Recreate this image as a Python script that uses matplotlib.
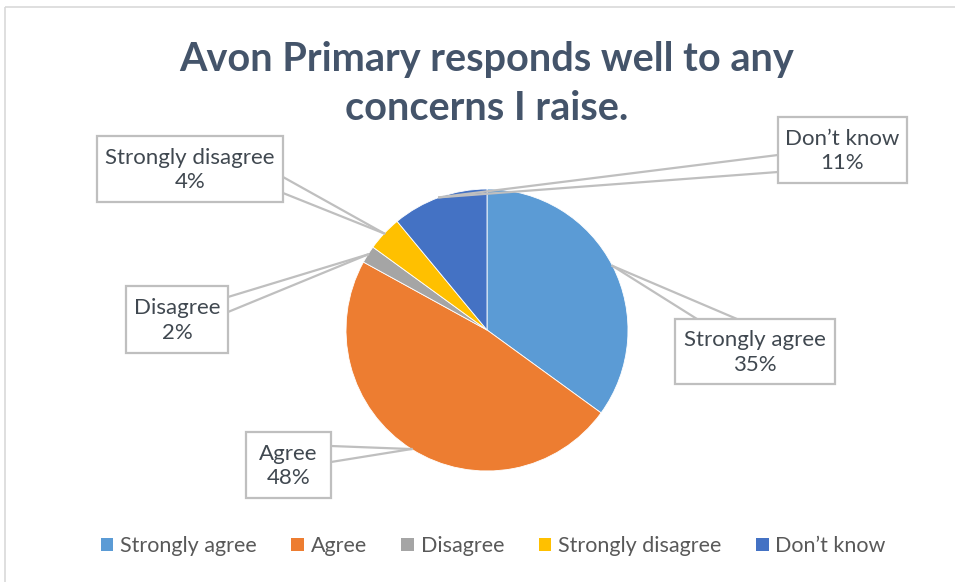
import numpy as np
import matplotlib
matplotlib.use("Agg")
import matplotlib.pyplot as plt
from matplotlib.patches import Patch, Rectangle

plt.rcParams['font.family'] = ['Lato', 'DejaVu Sans']

labels = ["Strongly agree", "Agree", "Disagree", "Strongly disagree", "Don\u2019t know"]
values = [35, 48, 2, 4, 11]
colors = ["#5B9BD5", "#ED7D31", "#A5A5A5", "#FFC000", "#4472C4"]

# callout boxes in pixels (left, top, right, bottom) and where the pointer leaves the box
boxes = {
    "Strongly agree": (675, 319, 835, 384),
    "Agree": (246, 432, 331, 498),
    "Disagree": (126, 286, 228, 353),
    "Strongly disagree": (97, 136, 283, 202),
    "Don\u2019t know": (778, 117, 907, 183),
}
roots = {
    "Strongly agree": [(697, 319), (737, 319)],
    "Agree": [(331, 446), (331, 462)],
    "Disagree": [(228, 297), (228, 312)],
    "Strongly disagree": [(283, 177), (283, 193)],
    "Don\u2019t know": [(778, 155), (778, 172)],
}

W, H = 955, 582
fig = plt.figure(figsize=(W / 100, H / 100), dpi=100)

# overlay axes in pixel coordinates
ov = fig.add_axes([0, 0, 1, 1])
ov.set_xlim(0, W)
ov.set_ylim(H, 0)
ov.axis('off')
ov.add_patch(Rectangle((5, 7), W + 10, H + 10, fill=False, ec="#D9D9D9", lw=1.2))

# pie
cx, cy, r = 487, 330, 141
ax = fig.add_axes([(cx - r) / W, (H - cy - r) / H, 2 * r / W, 2 * r / H])
wedges, _ = ax.pie(values, colors=colors, startangle=90, counterclock=False,
                   wedgeprops=dict(edgecolor='white', linewidth=0.6))
ax.set_xlim(-1, 1)
ax.set_ylim(-1, 1)
ax.axis('off')
ax.set_zorder(1)
ov.set_zorder(2)
ov.patch.set_alpha(0)

total = sum(values)
start = 90.0
for lab, v, w in zip(labels, values, wedges):
    mid = np.deg2rad(start - 360 * v / total / 2)
    start -= 360 * v / total
    # anchor on the rim, converted to overlay pixels
    disp = ax.transData.transform((np.cos(mid), np.sin(mid)))
    axp, ayp = ov.transData.inverted().transform(disp)
    for rx, ry in roots[lab]:
        ov.plot([rx, axp], [ry, ayp], color="#BFBFBF", lw=1.6, zorder=3)
    l, t, rr, b = boxes[lab]
    ov.add_patch(Rectangle((l, t), rr - l, b - t, fc='white', ec="#BFBFBF", lw=1.6, zorder=4))
    ov.text((l + rr) / 2, (t + b) / 2 + 1, f"{lab}\n{v}%", ha='center', va='center',
            fontsize=16, color="#404850", linespacing=1.3, zorder=5)

ov.text(487, 84, "Avon Primary responds well to any\nconcerns I raise.", ha='center', va='center',
        fontsize=28.5, fontweight='bold', color="#44546A", linespacing=1.42)

handles = [Patch(facecolor=c, edgecolor='none') for c in colors]
fig.legend(handles, labels, loc='center', bbox_to_anchor=(493 / W, 1 - 546 / H), ncol=5,
           frameon=False, fontsize=15.5, handlelength=0.6, handleheight=0.6, handletextpad=0.3,
           columnspacing=1.6, labelcolor="#595959")

fig.savefig("out.png", dpi=100)
